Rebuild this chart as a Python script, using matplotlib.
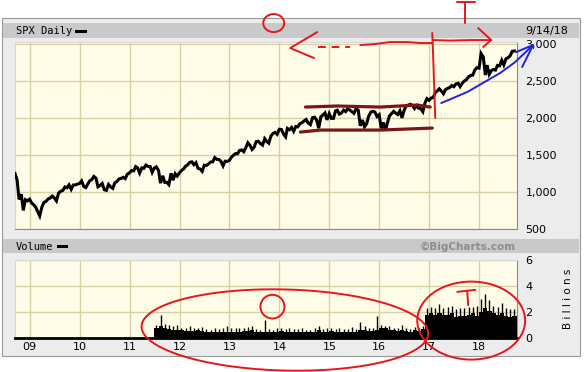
import matplotlib
matplotlib.use('Agg')
import matplotlib.pyplot as plt
from matplotlib.patches import Rectangle, Ellipse
import numpy as np
import pandas as pd

W, H = 586, 372

# SPX: value around mid-month (or the month's big swing) and month-end close, Sep 2008 .. Sep 2018
spx_mid = [1250, 900, 752, 880,
           850, 790, 677, 860, 905, 945, 880, 1010, 1068, 1096, 1094, 1106,
           1150, 1060, 1150, 1210, 1070, 1115, 1022, 1070, 1125, 1176, 1199, 1240,
           1290, 1343, 1256, 1320, 1345, 1265, 1340, 1120, 1130, 1100, 1160, 1215,
           1290, 1350, 1400, 1370, 1320, 1280, 1357, 1405, 1465, 1440, 1353, 1413,
           1472, 1520, 1560, 1545, 1665, 1575, 1680, 1655, 1720, 1660, 1790, 1780,
           1845, 1745, 1841, 1820, 1880, 1937, 1980, 1910, 2010, 1862, 2040, 1975,
           1995, 2096, 2053, 2106, 2125, 2084, 2125, 1895, 1882, 2023, 2090, 2020,
           1860, 1829, 2027, 2090, 2047, 2001, 2162, 2185, 2128, 2133, 2085, 2262,
           2270, 2349, 2395, 2328, 2400, 2440, 2460, 2425, 2500, 2557, 2580, 2680,
           2870, 2581, 2590, 2656, 2711, 2780, 2798, 2840, 2905]
spx_end = [1166, 969, 896, 903,
           826, 735, 798, 873, 919, 919, 987, 1021, 1057, 1036, 1096, 1115,
           1074, 1104, 1169, 1187, 1089, 1031, 1102, 1049, 1141, 1183, 1181, 1258,
           1286, 1327, 1326, 1364, 1345, 1321, 1292, 1219, 1131, 1253, 1247, 1258,
           1312, 1366, 1408, 1398, 1310, 1362, 1379, 1407, 1441, 1412, 1416, 1426,
           1498, 1515, 1569, 1598, 1631, 1606, 1686, 1633, 1682, 1757, 1806, 1848,
           1783, 1859, 1872, 1884, 1924, 1960, 1931, 2003, 1972, 2018, 2068, 2059,
           1995, 2105, 2068, 2086, 2107, 2063, 2104, 1972, 1920, 2079, 2080, 2044,
           1940, 1932, 2060, 2065, 2097, 2099, 2174, 2171, 2168, 2126, 2199, 2239,
           2279, 2364, 2363, 2384, 2412, 2423, 2470, 2472, 2519, 2575, 2648, 2674,
           2824, 2714, 2641, 2648, 2705, 2718, 2816, 2902]

# volume in billions, monthly typical level and spike, Jul 2011 .. Sep 2018
vol_typical = [0.8, 0.9, 0.75, 0.7, 0.6, 0.6,
               0.6, 0.55, 0.55, 0.55, 0.6, 0.55, 0.5, 0.45, 0.5, 0.5, 0.5, 0.5,
               0.5, 0.5, 0.5, 0.55, 0.55, 0.6, 0.5, 0.45, 0.5, 0.5, 0.45, 0.45,
               0.55, 0.5, 0.5, 0.5, 0.45, 0.45, 0.45, 0.45, 0.5, 0.6, 0.45, 0.5,
               0.55, 0.5, 0.5, 0.5, 0.5, 0.5, 0.5, 0.65, 0.6, 0.55, 0.55, 0.6,
               0.75, 0.75, 0.6, 0.6, 0.55, 0.6, 0.55, 0.5, 0.6, 0.55, 0.7, 1.8,
               1.9, 1.8, 1.9, 1.8, 1.8, 1.9, 1.6, 1.7, 1.7, 1.8, 1.9, 1.7,
               2.0, 2.3, 2.1, 1.9, 1.8, 1.9, 1.7, 1.6, 1.7]
vol_peak = [1.0, 1.75, 1.1, 1.0, 0.9, 1.0,
            0.8, 0.8, 0.9, 0.75, 0.8, 0.85, 0.7, 0.6, 0.8, 0.7, 0.75, 0.9,
            0.8, 0.75, 0.8, 0.8, 0.85, 0.9, 0.7, 0.65, 1.35, 0.7, 0.65, 0.8,
            0.8, 0.7, 0.75, 0.7, 0.7, 0.8, 0.65, 0.65, 0.75, 0.9, 0.7, 0.8,
            0.75, 0.7, 0.8, 0.7, 0.7, 0.85, 0.7, 1.2, 0.9, 0.8, 0.8, 1.7,
            1.0, 0.95, 0.9, 0.8, 0.8, 1.0, 0.75, 0.7, 0.85, 0.8, 0.9, 2.3,
            2.4, 2.3, 2.6, 2.3, 2.4, 2.5, 2.2, 2.3, 2.3, 2.4, 2.4, 2.5,
            3.0, 3.4, 2.9, 2.5, 2.4, 2.7, 2.3, 2.2, 2.2]

years = list(range(2009, 2019))
year_labels = ['09', '10', '11', '12', '13', '14', '15', '16', '17', '18']
price_ticks = [500, 1000, 1500, 2000, 2500, 3000]
price_labels = ['500', '1,000', '1,500', '2,000', '2,500', '3,000']
vol_ticks = [0, 2, 4, 6]


def dy(ts):
    # timestamp -> decimal year
    ts = pd.Timestamp(ts)
    days = 366 if ts.is_leap_year else 365
    return ts.year + (ts.dayofyear - 1) / days


months = pd.date_range('2008-09-01', periods=len(spx_mid), freq='MS')
t_price, v_price = [], []
for i, m in enumerate(months):
    t_price.append(dy(m + pd.Timedelta(days=14)))
    v_price.append(spx_mid[i])
    if i < len(spx_end):
        t_price.append(dy(m + pd.offsets.MonthEnd(0)))
        v_price.append(spx_end[i])

vol_months = pd.date_range('2011-07-01', periods=len(vol_typical) + 1, freq='MS')
vol_left = [dy(m) for m in vol_months[:-1]]
vol_width = [dy(b) - dy(a) for a, b in zip(vol_months[:-1], vol_months[1:])]
vol_mid = [dy(m + pd.Timedelta(days=14)) for m in vol_months[:-1]]

fig = plt.figure(figsize=(W / 100, H / 100), dpi=100)
fig.patch.set_facecolor('white')


def box(x0, y0, x1, y1, fc, ec='none', lw=0):
    fig.add_artist(Rectangle((x0 / W, 1 - y1 / H), (x1 - x0) / W, (y1 - y0) / H,
                             transform=fig.transFigure, fc=fc, ec=ec, lw=lw, zorder=-10))


def ftext(x, y, s, **kw):
    fig.text(x / W, 1 - y / H, s, **kw)


def axes_px(x0, y0, x1, y1):
    return fig.add_axes([x0 / W, 1 - y1 / H, (x1 - x0) / W, (y1 - y0) / H])


# grey frame and header bars
box(2, 18, 580, 356, '#ececec', '#9a9a9a', 0.8)
box(3, 22.5, 579, 38, '#c9c9c9')
box(3, 239, 579, 253, '#c9c9c9')

grid_c = '#d8d1a3'
bg = '#fffde8'
xlim = (2008.705, 2018.757)

# price panel
ax = axes_px(15, 42, 517, 229)
ax.set_facecolor(bg)
ax.plot(t_price, v_price, color='black', lw=2.2, solid_joinstyle='miter', zorder=3)
ax.set_xlim(*xlim)
ax.set_ylim(500, 3027)
ax.set_xticks(years)
ax.set_xticklabels([])
ax.set_yticks(price_ticks)
ax.set_yticklabels(price_labels)
ax.yaxis.tick_right()
ax.tick_params(length=0)
ax.tick_params(axis='y', pad=6, labelsize=8)
ax.grid(color=grid_c, lw=1)
for s in ['left', 'top']:
    ax.spines[s].set_color('#d8d8d8')
for s in ['bottom', 'right']:
    ax.spines[s].set_color('#8a8a8a')

# volume panel
axv = axes_px(15, 260, 517, 338)
axv.set_facecolor(bg)
axv.bar(vol_left, vol_typical, width=vol_width, align='edge', color='black', lw=0, zorder=3)
axv.vlines(vol_mid, 0, vol_peak, color='black', lw=1, zorder=3)
axv.set_xlim(*xlim)
axv.set_ylim(0, 6)
axv.set_xticks(years)
axv.set_xticklabels(year_labels)
axv.set_yticks(vol_ticks)
axv.yaxis.tick_right()
axv.tick_params(length=0, labelsize=8)
axv.tick_params(axis='y', pad=6)
axv.tick_params(axis='x', pad=3)
axv.grid(color=grid_c, lw=1)
axv.spines['bottom'].set_color('black')
axv.spines['bottom'].set_linewidth(2)
axv.spines['left'].set_color('#d8d8d8')
axv.spines['top'].set_color('#d8d8d8')
axv.spines['right'].set_color('#8a8a8a')

# header texts
ftext(16, 31, 'SPX Daily', family='DejaVu Sans Mono', fontsize=7.5, va='center')
box(75, 29.5, 87, 32.5, 'black')
ftext(525, 31, '9/14/18', fontsize=8, va='center')
ftext(16, 246.5, 'Volume', family='DejaVu Sans Mono', fontsize=7.5, va='center')
box(57, 245, 68, 248, 'black')
ftext(516, 246.5, '\u00a9BigCharts.com', fontsize=7.5, fontweight='bold',
      color='#8c8c8c', ha='right', va='center')
ftext(568, 299, 'B i l l i o n s', fontsize=7.5, rotation=90, ha='center', va='center')

# hand-drawn markup
red = '#e5161c'
maroon = '#7b1616'
blue = '#2222dd'
kw = dict(clip_on=False, zorder=6, solid_capstyle='round')

ax.add_patch(Ellipse((2013.886, 3283), 0.42, 244, fill=False, ec=red, lw=1.4, clip_on=False, zorder=6))
ax.plot([2014.757, 2014.216, 2014.694], [3161, 2945, 2810], color=red, lw=1.4, **kw)
ax.plot([2014.78, 2015.42], [2959, 2959], color=red, lw=1.4, ls=(0, (4, 3)), clip_on=False, zorder=6)
ax.plot([2015.62, 2015.92, 2016.22, 2016.56, 2016.82, 2017.06],
        [2986, 3000, 3026, 3026, 3013, 3013], color=red, lw=1.4, **kw)
ax.plot([2017.08, 2017.42, 2017.82, 2018.24], [3053, 3046, 3053, 3053], color=red, lw=1.4, **kw)
ax.plot([2017.98, 2018.24, 2018.08], [3215, 3053, 2959], color=red, lw=1.4, **kw)
ax.plot([2017.06, 2017.08, 2017.1, 2017.12], [3148, 2800, 2400, 2000], color=red, lw=1.4, **kw)
ax.plot([2017.56, 2017.92], [3567, 3567], color=red, lw=1.4, **kw)
ax.plot([2017.72, 2017.72], [3567, 3283], color=red, lw=1.4, **kw)

ax.plot([2014.52, 2015.16, 2016.02, 2016.76, 2017.02], [2148, 2162, 2148, 2175, 2148],
        color=maroon, lw=2.3, **kw)
ax.plot([2014.42, 2014.82, 2016.02, 2017.06], [1810, 1837, 1837, 1864],
        color=maroon, lw=2.3, **kw)

ax.plot([2017.24, 2017.76, 2018.42, 2018.72, 2019.08], [2202, 2351, 2608, 2756, 2986],
        color=blue, lw=1.4, **kw)
ax.plot([2018.74, 2019.08, 2018.86], [2891, 2986, 2689], color=blue, lw=1.4, **kw)

# volume markup
tt = np.linspace(0, 2 * np.pi, 200)
axv.plot(2014.11 + 2.87 * np.cos(tt), 0.615 + 3.12 * np.sin(tt) - 0.26 * np.cos(tt),
         color=red, lw=1.4, clip_on=False, zorder=6)
axv.add_patch(Ellipse((2013.86, 2.41), 0.48, 1.82, fill=False, ec=red, lw=1.4, clip_on=False, zorder=6))
axv.add_patch(Ellipse((2017.84, 1.34), 2.16, 6.0, fill=False, ec=red, lw=1.4, clip_on=False, zorder=6))
axv.plot([2017.56, 2017.92], [3.55, 3.7], color=red, lw=1.4, **kw)
axv.plot([2017.76, 2017.78], [3.62, 2.52], color=red, lw=1.4, **kw)

fig.savefig('out.png', dpi=100)
